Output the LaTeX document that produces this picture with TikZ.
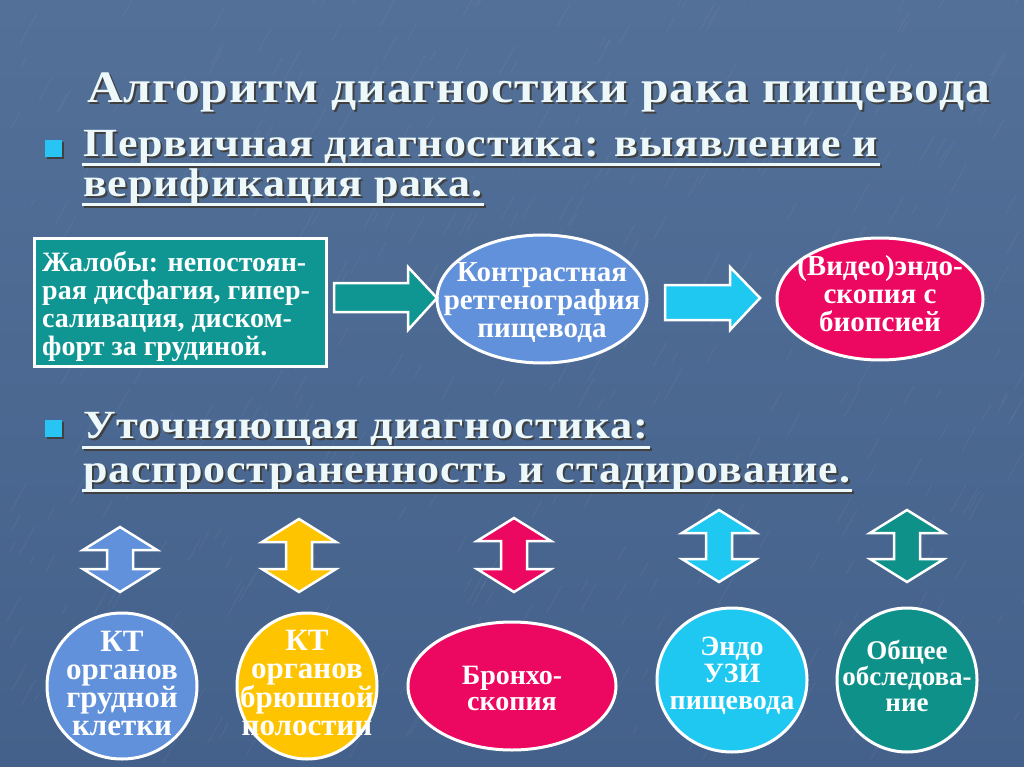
\documentclass[tikz,border=0pt]{standalone}
\usepackage{fontspec}
\usepackage{graphicx}
\setmainfont{Liberation Serif}
\usetikzlibrary{shapes.geometric}
\definecolor{bgtop}{RGB}{82,112,152}
\definecolor{bgbot}{RGB}{68,97,139}
\definecolor{headcol}{RGB}{236,248,250}
\definecolor{tealc}{RGB}{16,150,146}
\definecolor{bluec}{RGB}{96,145,218}
\definecolor{crimc}{RGB}{236,8,96}
\definecolor{cyanc}{RGB}{30,200,240}
\definecolor{yelc}{RGB}{255,196,0}
\definecolor{teal2}{RGB}{14,145,136}
\definecolor{bulc}{RGB}{40,196,244}
\newcommand\fitw[2]{\resizebox{#1}{\height}{\addfontfeature{LetterSpace=2}#2}}
\newcommand\dblarrow[4]{%
  \filldraw[fill=#4, draw=white, line width=2.5pt, line join=miter]
    (#1,#2) -- ({#1+37},{#2+23}) -- ({#1+13},{#2+23}) -- ({#1+13},{#3-23})
    -- ({#1+37},{#3-23}) -- (#1,#3) -- ({#1-37},{#3-23}) -- ({#1-13},{#3-23})
    -- ({#1-13},{#2+23}) -- ({#1-37},{#2+23}) -- cycle;}
\tikzset{
  titletxt/.style={anchor=base west, inner sep=0, text=headcol, font=\bfseries\fontsize{45}{45}\selectfont},
  titleshd/.style={titletxt, text=black!75},
  headtxt/.style={anchor=base west, inner sep=0, text=headcol, font=\bfseries\fontsize{40}{40}\selectfont},
  headshd/.style={headtxt, text=black!75},
  uline/.style={draw=headcol, line width=3pt},
  ulineshd/.style={draw=black!75, line width=3pt},
  bullet/.style={fill=bulc},
  bulletshd/.style={fill=black!75},
  oval/.style={ellipse, draw=white, line width=3pt, inner sep=0},
  ovtext/.style={text=white, align=center, inner sep=0, font=\bfseries\fontsize{29}{28}\selectfont},
  blockarrow/.style={draw=white, line width=2.5pt, line join=miter},
  streak/.style={draw=white, opacity=0.06, line width=0.8pt},
}
\begin{document}
\begin{tikzpicture}[x=1pt,y=-1pt]
\useasboundingbox (0,0) rectangle (1024,767);
\shade[top color=bgtop, bottom color=bgbot] (0,0) rectangle (1024,767);
% background texture
\pgfmathsetseed{7}
\foreach \i in {1,...,420}{
  \pgfmathsetmacro{\sx}{random(0,1024)}
  \pgfmathsetmacro{\sy}{random(0,767)}
  \pgfmathsetmacro{\sl}{random(8,30)}
  \draw[streak] (\sx,\sy) -- ++({\sl*0.55},{-\sl});
}

% title
\node[titleshd] (titleS) at (89,105) {\fitw{903pt}{Алгоритм диагностики рака пищевода}};
\node[titletxt] (title) at (87,103) {\fitw{903pt}{Алгоритм диагностики рака пищевода}};

% heading 1
\fill[bulletshd] (47,142) rectangle (64,159);
\fill[bullet] (45,140) rectangle (62,157);
\node[headshd] (h1aS) at (85,159) {\fitw{795pt}{Первичная диагностика: выявление и}};
\node[headtxt] (h1a) at (83,157) {\fitw{795pt}{Первичная диагностика: выявление и}};
\node[headshd] (h1bS) at (85,199) {\fitw{399pt}{верификация рака.}};
\node[headtxt] (h1b) at (83,197) {\fitw{399pt}{верификация рака.}};
\draw[ulineshd] (84,167) -- (882,167);
\draw[uline] (82,165) -- (880,165);
\draw[ulineshd] (84,207) -- (486,207);
\draw[uline] (82,205) -- (484,205);

% heading 2
\fill[bulletshd] (47,422) rectangle (64,439);
\fill[bullet] (45,420) rectangle (62,437);
\node[headshd] (h2aS) at (85,440) {\fitw{565pt}{Уточняющая диагностика:}};
\node[headtxt] (h2a) at (83,438) {\fitw{565pt}{Уточняющая диагностика:}};
\node[headshd] (h2bS) at (85,484) {\fitw{767pt}{распространенность и стадирование.}};
\node[headtxt] (h2b) at (83,482) {\fitw{767pt}{распространенность и стадирование.}};
\draw[ulineshd] (84,449) -- (652,449);
\draw[uline] (82,447) -- (650,447);
\draw[ulineshd] (84,492) -- (854,492);
\draw[uline] (82,490) -- (852,490);

% complaint box
\node[draw=white, line width=3pt, fill=tealc, minimum width=292pt, minimum height=128pt,
      anchor=north west, inner sep=0] (box) at (33,237) {};
\node[text=white, align=left, anchor=west, inner sep=0,
      font=\bfseries\fontsize{28}{27.7}\selectfont] (boxT) at ([xshift=9pt, yshift=-4pt]box.west)
  {Жалобы: непостоян-\\рая дисфагия, гипер-\\саливация, диском-\\форт за грудиной.};

% ellipses top
\node[oval, fill=bluec, minimum width=210pt, minimum height=128pt] (xray) at (542,299) {};
\node[ovtext] (xrayT) at ([yshift=-4pt]xray.center) {Контрастная\\ретгенография\\пищевода};
\node[oval, fill=crimc, minimum width=206pt, minimum height=122pt] (endo) at (880,299) {};
\node[ovtext] (endoT) at ([yshift=5pt]endo.center) {(Видео)эндо-\\скопия с\\биопсией};

% right block arrows
\filldraw[blockarrow, fill=tealc] (334,283) -- (408,283) -- (408,267) -- (437,298)
   -- (408,330) -- (408,312) -- (334,312) -- cycle;
\filldraw[blockarrow, fill=cyanc] (665,285) -- (730,285) -- (730,267) -- (760,298)
   -- (730,330) -- (730,320) -- (665,320) -- cycle;

% vertical double arrows
\dblarrow{120}{527}{592}{bluec}
\dblarrow{299}{519}{592}{yelc}
\dblarrow{514}{518}{592}{crimc}
\dblarrow{719}{510}{582}{cyanc}
\dblarrow{907}{510}{582}{teal2}

% bottom ovals
\node[oval, fill=bluec, minimum width=150pt, minimum height=146pt] (kt1) at (122,686) {};
\node[ovtext, font=\bfseries\fontsize{31}{28}\selectfont] (kt1T) at ([yshift=3pt]kt1.center)
  {КТ\\органов\\грудной\\клетки};
\node[oval, fill=yelc, minimum width=140pt, minimum height=146pt] (kt2) at (307,686) {};
\node[ovtext, font=\bfseries\fontsize{31}{28}\selectfont] (kt2T) at ([yshift=3pt]kt2.center)
  {КТ\\органов\\брюшной\\полостии};
\node[oval, fill=crimc, minimum width=208pt, minimum height=128pt] (bronch) at (512,686) {};
\node[ovtext, font=\bfseries\fontsize{28}{26}\selectfont] (bronchT) at ([yshift=-2pt]bronch.center)
  {Бронхо-\\скопия};
\node[oval, fill=cyanc, minimum width=150pt, minimum height=144pt] (uzi) at (732,680) {};
\node[ovtext, font=\bfseries\fontsize{28}{27}\selectfont] (uziT) at ([yshift=4pt]uzi.center)
  {Эндо\\УЗИ\\пищевода};
\node[oval, fill=teal2, minimum width=140pt, minimum height=144pt] (gen) at (907,680) {};
\node[ovtext, font=\bfseries\fontsize{27}{26}\selectfont] (genT) at ([yshift=4pt]gen.center)
  {Общее\\обследова-\\ние};
\end{tikzpicture}
\end{document}
